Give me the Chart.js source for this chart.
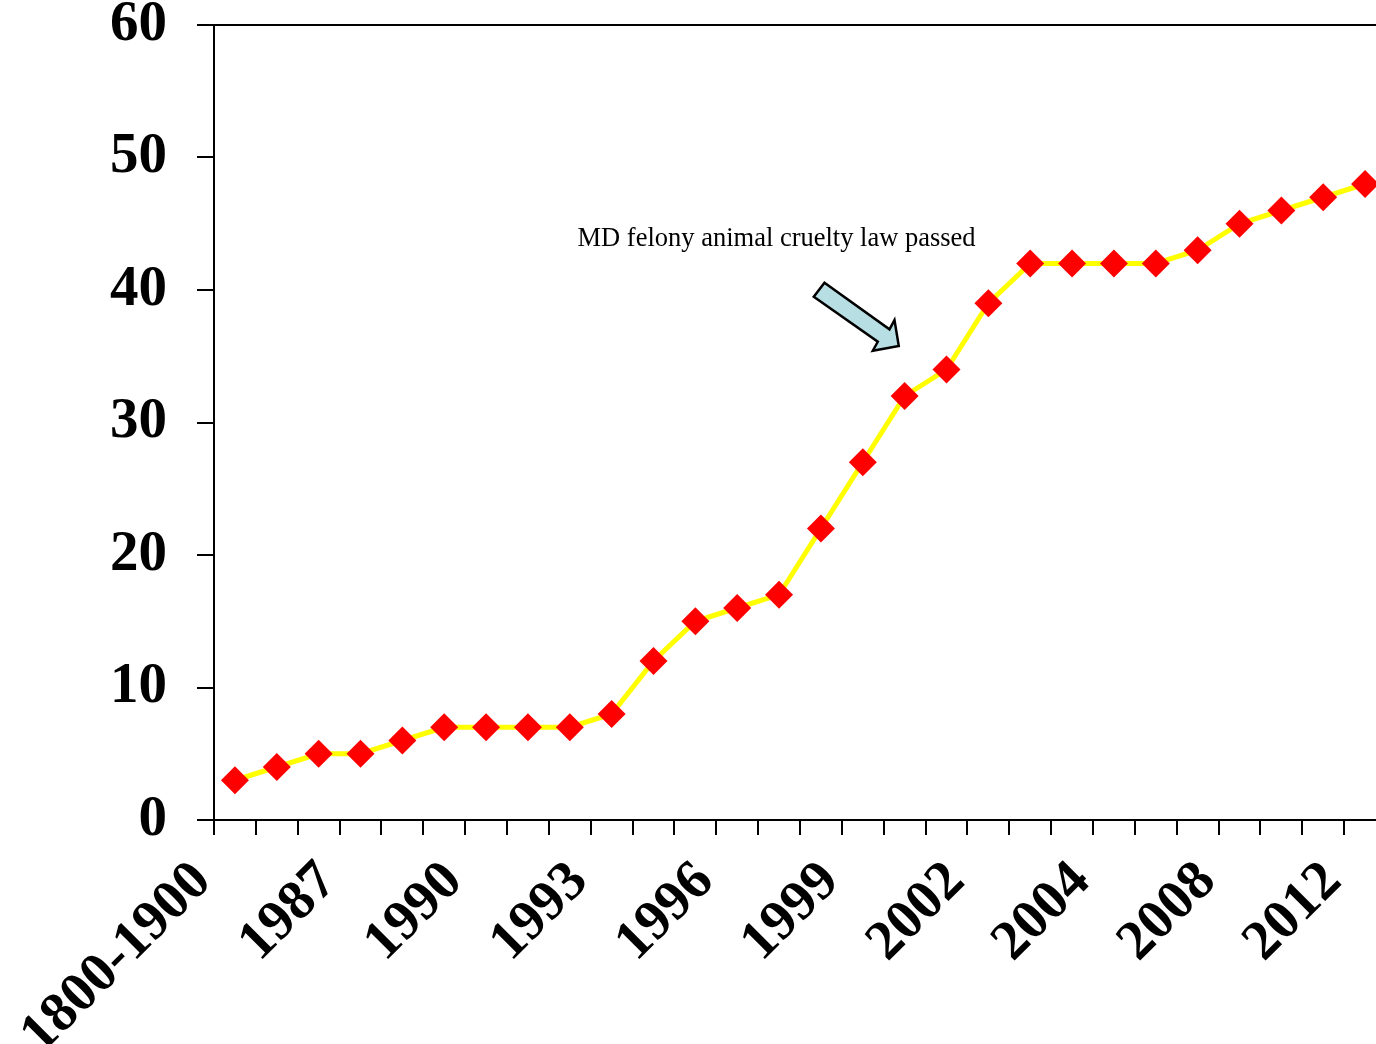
<!DOCTYPE html>
<html>
<head>
<meta charset="utf-8">
<script src="https://cdn.jsdelivr.net/npm/chart.js@4/dist/chart.umd.min.js"></script>
<style>
  html, body { margin: 0; padding: 0; background: #fff; overflow: hidden; }
  #c { position: absolute; left: 0; top: 0; }
</style>
</head>
<body>
<canvas id="c" width="1400" height="1044"></canvas>
<script>
// Category labels (only every third one is printed on the original axis)
const categories = ['1800-1900', '', '', '1987', '', '', '1990', '', '', '1993', '', '', '1996', '', '',
                    '1999', '', '', '2002', '', '', '2004', '', '', '2008', '', '', '2012'];
// Number of states with felony animal cruelty provisions
const seriesValues = [3, 4, 5, 5, 6, 7, 7, 7, 7, 8, 12, 15, 16, 17, 22, 27, 32, 34, 39, 42, 42, 42, 42, 43, 45, 46, 47, 48];
const yTicks = [0, 10, 20, 30, 40, 50, 60];
const annotationText = 'MD felony animal cruelty law passed';
const annotationAt = { x: 12.94, y: 43.85 };   // in data units (category index, value)
const arrowTipAt = { x: 15.86, y: 35.77 };     // in data units

const serif = '"Liberation Serif", "Times New Roman", serif';

const decorPlugin = {
  id: 'decor',
  afterDraw(chart) {
    const { ctx, chartArea, scales } = chart;
    const xs = scales.x, ys = scales.y;
    ctx.save();
    // top / right frame
    ctx.strokeStyle = '#000';
    ctx.lineWidth = 2;
    ctx.beginPath();
    ctx.moveTo(chartArea.left, chartArea.top);
    ctx.lineTo(chartArea.right, chartArea.top);
    ctx.lineTo(chartArea.right, chartArea.bottom);
    ctx.stroke();
    // annotation text
    ctx.fillStyle = '#000';
    ctx.font = '26.5px ' + serif;
    ctx.textAlign = 'center';
    ctx.textBaseline = 'middle';
    ctx.fillText(annotationText, xs.getPixelForValue(annotationAt.x), ys.getPixelForValue(annotationAt.y));
    // block arrow
    const tx = xs.getPixelForValue(arrowTipAt.x), ty = ys.getPixelForValue(arrowTipAt.y);
    const shape = [[-74.3, -63.3], [-9.3, -16.7], [-4.3, -26], [0, 0], [-26, 4.7], [-21, -4.3], [-85, -49.3]];
    ctx.beginPath();
    shape.forEach((p, i) => {
      if (i === 0) ctx.moveTo(tx + p[0], ty + p[1]); else ctx.lineTo(tx + p[0], ty + p[1]);
    });
    ctx.closePath();
    ctx.fillStyle = '#B7DEE3';
    ctx.fill();
    ctx.lineWidth = 2.5;
    ctx.strokeStyle = '#000';
    ctx.lineJoin = 'miter';
    ctx.stroke();
    ctx.restore();
  }
};

new Chart(document.getElementById('c'), {
  type: 'line',
  data: {
    labels: categories,
    datasets: [{
      data: seriesValues,
      borderColor: '#FFFF00',
      borderWidth: 5,
      backgroundColor: '#FF0000',
      pointStyle: 'rectRot',
      pointRadius: 14,
      pointHoverRadius: 14,
      pointBorderWidth: 0,
      pointBackgroundColor: '#FF0000',
      pointBorderColor: '#FF0000',
      tension: 0,
      fill: false
    }]
  },
  options: {
    responsive: false,
    animation: false,
    devicePixelRatio: 1,
    layout: { padding: { top: 25, right: 10, left: 0, bottom: 0 } },
    plugins: { legend: { display: false }, tooltip: { enabled: false } },
    scales: {
      x: {
        type: 'category',
        offset: true,
        grid: { offset: true, drawOnChartArea: false, drawTicks: true, tickLength: 15, color: '#000', lineWidth: 2 },
        border: { color: '#000', width: 2 },
        ticks: {
          autoSkip: false,
          minRotation: 45,
          maxRotation: 45,
          labelOffset: -32,
          padding: 18,
          color: '#000',
          font: { family: serif, size: 56, weight: 'bold', lineHeight: 1 }
        },
        afterFit(scale) {
          scale.height = 224;
          scale.paddingLeft = 0;
          scale.paddingRight = 0;
        }
      },
      y: {
        min: 0,
        max: 60,
        afterBuildTicks(scale) { scale.ticks = yTicks.map(v => ({ value: v })); },
        grid: { drawOnChartArea: false, drawTicks: true, tickLength: 17, color: '#000', lineWidth: 2 },
        border: { color: '#000', width: 2 },
        ticks: {
          padding: 30,
          color: '#000',
          font: { family: serif, size: 57, weight: 'bold', lineHeight: 1 }
        },
        afterFit(scale) {
          scale.width = 214;
          scale.paddingTop = 0;
          scale.paddingBottom = 0;
        }
      }
    }
  },
  plugins: [decorPlugin]
});
</script>
</body>
</html>
